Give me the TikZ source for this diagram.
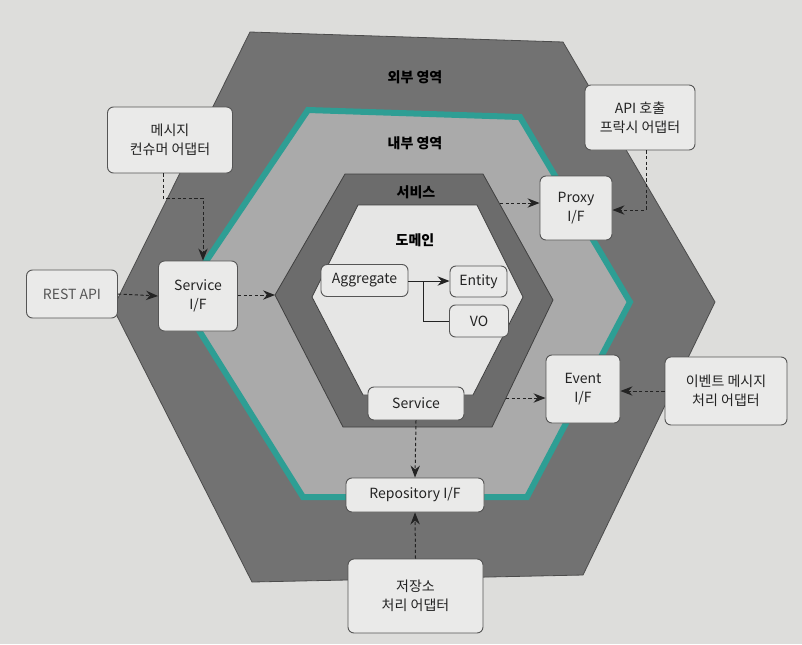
\documentclass[tikz,border=0pt]{standalone}
\usepackage{fontspec}
\setmainfont{Noto Sans CJK KR}
\usepackage{tikz}
\usetikzlibrary{arrows.meta}

\definecolor{paper}{RGB}{221,221,219}
\definecolor{outerzone}{RGB}{114,114,114}
\definecolor{innerzone}{RGB}{170,170,170}
\definecolor{servicezone}{RGB}{108,108,108}
\definecolor{domainzone}{RGB}{230,230,229}
\definecolor{tealline}{RGB}{46,158,148}
\definecolor{boxfill}{RGB}{234,234,233}
\definecolor{boxline}{RGB}{85,85,85}
\definecolor{inkgray}{RGB}{35,35,35}

\begin{document}
\begin{tikzpicture}[x=0.75pt,y=0.75pt,yscale=-1,xscale=1,
  box/.style={draw=boxline,fill=boxfill,rounded corners=4.5pt,line width=0.7pt,
    align=center,inner sep=0pt,text=inkgray,font=\fontsize{10.5}{14}\selectfont},
  zonelabel/.style={font=\fontsize{10.5}{13}\selectfont\bfseries,text=black},
  dasharrow/.style={draw=inkgray,line width=0.75pt,dash pattern=on 2.4pt off 1.8pt,
    -{Stealth[length=9pt,width=7pt,inset=3pt]}},
  solidarrow/.style={draw=inkgray,line width=0.75pt,
    -{Stealth[length=9pt,width=7pt,inset=3pt]}}]
\useasboundingbox (0,0) rectangle (802,644);
\fill[paper] (0,0) rectangle (802,644);

%Shape: Hexagon outer zone
\draw[fill=outerzone,draw=black!70,line width=0.6pt] (250,32) -- (563,42) -- (715,302) -- (583,575) -- (252,582) -- (113,308) -- cycle ;
%Shape: Hexagon inner zone
\draw[fill=innerzone,draw=tealline,line width=4.5pt,line join=miter] (308,110) -- (520,117) -- (630,302) -- (527,497) -- (303,497) -- (180,300) -- cycle ;
%Shape: Hexagon service zone
\draw[fill=servicezone,draw=black!75,line width=0.6pt] (345,174) -- (483,174) -- (553,300) -- (492,427) -- (343,427) -- (275,295) -- cycle ;
%Shape: Hexagon domain zone
\draw[fill=domainzone,draw=black!75,line width=0.6pt] (358,205) -- (477,205) -- (523,297) -- (473,395) -- (363,395) -- (312,297) -- cycle ;

% Text Node
\node[zonelabel] (outerlabel) at (415,77) {외부 영역};
% Text Node
\node[zonelabel] (innerlabel) at (415,143) {내부 영역};
% Text Node
\node[zonelabel] (servicelabel) at (416,192) {서비스};
% Text Node
\node[zonelabel] (domainlabel) at (415,240) {도메인};

% Boxes
\node[box,minimum width=93.75pt,minimum height=49.5pt] (msgadapter) at (170,140) {메시지\\컨슈머 어댑터};
\node[box,minimum width=82.5pt,minimum height=48.75pt] (apiadapter) at (640,117.5) {API 호출\\프락시 어댑터};
\node[box,minimum width=68.25pt,minimum height=36pt,text=boxline] (restapi) at (72,294) {REST API};
\node[box,minimum width=59.25pt,minimum height=52.5pt] (serviceif) at (198,296) {Service\\I/F};
\node[box,minimum width=54pt,minimum height=48pt] (proxyif) at (576,208) {Proxy\\I/F};
\node[box,minimum width=65.25pt,minimum height=24pt] (aggregate) at (364.5,280.5) {Aggregate};
\node[box,minimum width=42.75pt,minimum height=23.25pt] (entity) at (478.5,281.5) {Entity};
\node[box,minimum width=44.25pt,minimum height=24pt] (vo) at (479,321) {VO};
\node[box,minimum width=72pt,minimum height=24.75pt] (service) at (416,403.5) {Service};
\node[box,minimum width=55.5pt,minimum height=51pt] (eventif) at (583,389) {Event\\I/F};
\node[box,minimum width=91.5pt,minimum height=51pt] (eventadapter) at (726,391) {이벤트 메시지\\처리 어댑터};
\node[box,minimum width=103.5pt,minimum height=25.5pt] (repoif) at (415,495) {Repository I/F};
\node[box,minimum width=101.25pt,minimum height=55.5pt] (storeadapter) at (415.5,596) {저장소\\처리 어댑터};

% Connector points
\coordinate (msgbend) at (163,198);
\coordinate (msgdrop) at (203,198);
\coordinate (hexleft) at (275,295);
\coordinate (hexupper) at (500,203);
\coordinate (apibend) at (646,210);
\coordinate (hexlower) at (506,398);
\coordinate (branch) at (423,281);

% Connectors
\draw[dasharrow] (msgadapter.south -| msgbend) -- (msgbend) -- (msgdrop) -- (msgdrop |- serviceif.north);
\draw[dasharrow] (restapi.east) -- (serviceif.west);
\draw[dasharrow] (serviceif.east |- hexleft) -- (hexleft);
\draw[dasharrow] (hexupper) -- (hexupper -| proxyif.west);
\draw[dasharrow] (apiadapter.south -| apibend) -- (apibend) -- (apibend -| proxyif.east);
\draw[solidarrow] (aggregate.east |- branch) -- (branch -| entity.west);
\draw[draw=inkgray,line width=0.75pt] (branch) |- (vo.west);
\draw[dasharrow] (hexlower) -- (hexlower -| eventif.west);
\draw[dasharrow] (eventadapter.west) -- (eventadapter.west -| eventif.east);
\draw[dasharrow] (service.south) -- (repoif.north);
\draw[dasharrow] (storeadapter.north) -- (repoif.south);

\end{tikzpicture}
\end{document}
